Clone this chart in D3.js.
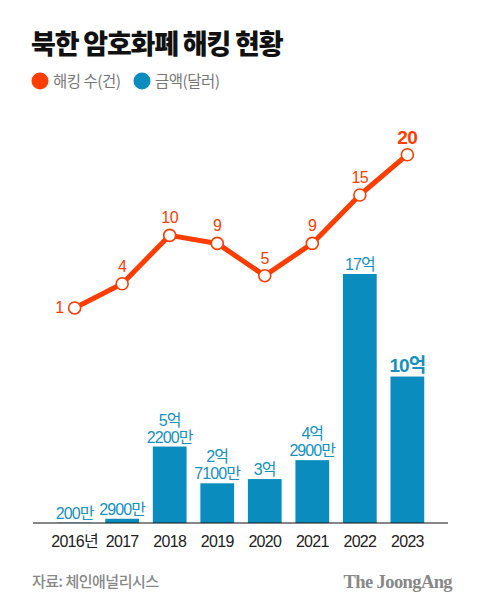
<!DOCTYPE html>
<html><head><meta charset="utf-8">
<script src="https://cdn.jsdelivr.net/npm/d3@7"></script>
<style>body{margin:0;background:#fff}svg{display:block}</style>
</head><body>
<script>
const years = ["2016","2017","2018","2019","2020","2021","2022","2023"];
const yearLabels = ["2016년","2017","2018","2019","2020","2021","2022","2023"];
const hacks = [1,4,10,9,5,9,15,20];
const amounts = [0.02,0.29,5.22,2.71,3,4.29,17,10]; // 억 달러
const amountLabels = [["200만"],["2900만"],["5억","2200만"],["2억","7100만"],["3억"],["4억","2900만"],["17억"],["10억"]];

const W=480,H=610;
const orange="#ff3d00", blue="#0a8cbe", blueText="#1591c2";
const font="'Noto Sans CJK KR','Noto Sans',sans-serif";
const numFont="'Liberation Sans',Arial,'Noto Sans CJK KR',sans-serif";
const svg=d3.select("body").append("svg").attr("width",W).attr("height",H);

svg.append("text").attr("x",31).attr("y",54).text("북한 암호화폐 해킹 현황")
  .attr("font-family",font).attr("font-weight",900).attr("font-size",27).attr("letter-spacing",-1.2).attr("fill","#111");

// legend
const leg=[{c:orange,t:"해킹 수(건)",x:40},{c:blue,t:"금액(달러)",x:142}];
leg.forEach(l=>{
  svg.append("circle").attr("cx",l.x).attr("cy",81).attr("r",8.5).attr("fill",l.c);
  svg.append("text").attr("x",l.x+13).attr("y",87).text(l.t).attr("font-family",font)
    .attr("font-size",15.5).attr("letter-spacing",-0.5).attr("fill","#777");
});

const x=d3.scaleBand().domain(years).range([53,429]).paddingInner(0.29).paddingOuter(0.1);
const yB=d3.scaleLinear().domain([0,17]).range([523,274]);
const yL=d3.scaleLinear().domain([0,20]).range([316,154.7]);
const cx=d=>x(d)+x.bandwidth()/2;

// bars
svg.selectAll("rect.bar").data(years).join("rect").attr("class","bar")
  .attr("x",d=>x(d)).attr("width",x.bandwidth())
  .attr("y",(d,i)=>yB(amounts[i])).attr("height",(d,i)=>yB(0)-yB(amounts[i])).attr("fill",blue);

// bar labels
years.forEach((d,i)=>{
  const lines=amountLabels[i];
  const last=i===7;
  const top=yB(amounts[i]);
  lines.forEach((t,j)=>{
    svg.append("text").attr("x",cx(d)).attr("y",top-(last?5:4)-(lines.length-1-j)*17)
      .attr("text-anchor","middle").text(t).attr("font-family",numFont)
      .attr("font-size",last?19:16).attr("font-weight",last?700:400)
      .attr("letter-spacing",-0.9).attr("fill",blueText);
  });
});

// axis
const axis=svg.append("g").attr("transform","translate(0,523)")
  .call(d3.axisBottom(x).tickSize(0).tickFormat((d,i)=>yearLabels[i]));
axis.select(".domain").attr("d","M33,0H448").attr("stroke","#111").attr("stroke-width",1.2);
axis.selectAll("text").attr("dy",0).attr("y",23.5).attr("font-family",numFont)
  .attr("font-size",16).attr("letter-spacing",-0.7).attr("fill","#222");

// line
const line=d3.line().x((d,i)=>cx(years[i])).y(d=>yL(d));
svg.append("path").datum(hacks).attr("d",line).attr("fill","none").attr("stroke",orange)
  .attr("stroke-width",5).attr("stroke-linejoin","round");
svg.selectAll("circle.pt").data(hacks).join("circle").attr("class","pt")
  .attr("cx",(d,i)=>cx(years[i])).attr("cy",d=>yL(d)).attr("r",6)
  .attr("fill","#fff").attr("stroke",orange).attr("stroke-width",1.6);
hacks.forEach((v,i)=>{
  const first=i===0,last=i===7;
  svg.append("text").attr("x",first?cx(years[i])-11:cx(years[i]))
    .attr("y",first?yL(v)+5.5:yL(v)-(last?11:12))
    .attr("text-anchor",first?"end":"middle").text(v)
    .attr("font-family",numFont).attr("font-size",last?19:16).attr("font-weight",last?700:400)
    .attr("letter-spacing",-0.5).attr("fill",orange);
});

// footer
svg.append("text").attr("x",32).attr("y",587).text("자료: 체인애널리시스").attr("font-family",font)
  .attr("font-size",15).attr("font-weight",500).attr("letter-spacing",-0.5).attr("fill","#888");
svg.append("text").attr("x",452).attr("y",588).attr("text-anchor","end").text("The JoongAng")
  .attr("font-family","'Liberation Serif','DejaVu Serif',serif").attr("font-weight",700)
  .attr("font-size",18.5).attr("letter-spacing",-0.6).attr("fill","#888");
</script>
</body></html>
